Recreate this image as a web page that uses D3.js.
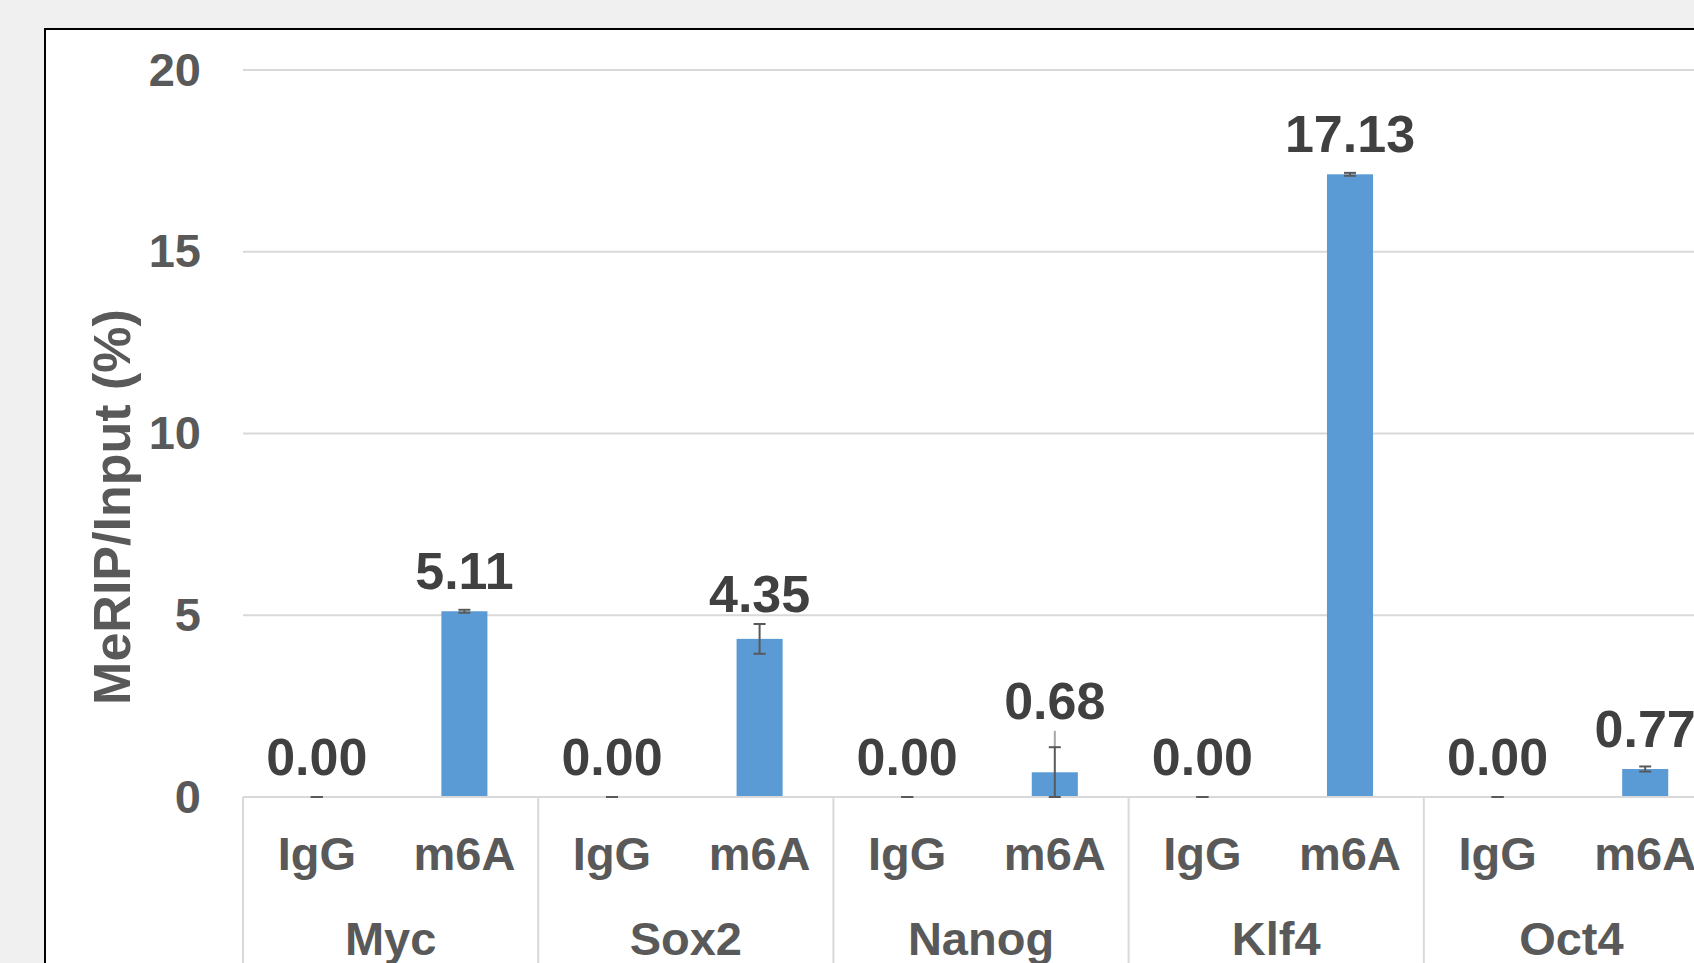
<!DOCTYPE html>
<html>
<head>
<meta charset="utf-8">
<script src="https://cdn.jsdelivr.net/npm/d3@7"></script>
<style>
	html, body { margin: 0; padding: 0; background: #f0f0f0; overflow: hidden; }
	#chart { width: 1694px; height: 963px; }
	text { font-family: "Liberation Sans", Arial, sans-serif; font-weight: bold; }
</style>
</head>
<body>
<div id="chart"></div>
<script>
// Data
var genes = ["Myc", "Sox2", "Nanog", "Klf4", "Oct4"];
var antibodies = ["IgG", "m6A"];
var values = [0.00, 5.11, 0.00, 4.35, 0.00, 0.68, 0.00, 17.13, 0.00, 0.77];
var errPlus = [0.00, 0.04, 0.00, 0.41, 0.00, 0.69, 0.00, 0.04, 0.00, 0.07];
var errMinus = [0.00, 0.04, 0.00, 0.41, 0.00, 0.68, 0.00, 0.04, 0.00, 0.07];
var errLineUp = [0.00, 0.04, 0.00, 0.41, 0.00, 1.14, 0.00, 0.04, 0.00, 0.07];
var yTicks = [0, 5, 10, 15, 20];
var yTitle = "MeRIP/Input (%)";

var rows = [];
genes.forEach((g, gi) => {
	antibodies.forEach((a, ai) => {
		var i = gi * antibodies.length + ai;
		rows.push({gene: g, ab: a, value: values[i], up: errPlus[i], down: errMinus[i], lineUp: errLineUp[i]});
	});
});

var W = 1694, H = 963;
var svg = d3.select("#chart")
	.append("svg")
	.attr("width", W)
	.attr("height", H);

// chart frame (runs off the right and bottom edges)
svg.append("rect")
	.attr("x", 45).attr("y", 29)
	.attr("width", 2000).attr("height", 2000)
	.attr("fill", "#fff")
	.attr("stroke", "#000")
	.attr("stroke-width", 2);

var plotLeft = 243, plotRight = 1719;
var yScale = d3.scaleLinear().domain([0, 20]).range([797, 70]);
var xGroup = d3.scaleBand().domain(genes).range([plotLeft, plotRight]);
var xSub = d3.scaleBand().domain(antibodies).range([0, xGroup.bandwidth()]);
var barW = xSub.bandwidth() * 0.312;
var cx = d => xGroup(d.gene) + xSub(d.ab) + xSub.bandwidth() / 2;

// gridlines
svg.append("g")
	.selectAll("line")
	.data(yTicks)
	.join("line")
		.attr("x1", plotLeft).attr("x2", W)
		.attr("y1", d => yScale(d)).attr("y2", d => yScale(d))
		.attr("stroke", "#d9d9d9")
		.attr("stroke-width", 2);

// y axis labels
var yAxis = d3.axisLeft(yScale).tickValues(yTicks).tickSize(0).tickPadding(42);
var yG = svg.append("g")
	.attr("transform", "translate(" + plotLeft + ",0)")
	.call(yAxis);
yG.select(".domain").remove();
yG.selectAll("text")
	.style("font-size", "47px")
	.style("font-family", "'Liberation Sans', Arial, sans-serif")
	.style("font-weight", "bold")
	.attr("fill", "#595959");

// y title
svg.append("text")
	.attr("transform", "translate(130,507) rotate(-90)")
	.attr("text-anchor", "middle")
	.style("font-size", "52px")
	.attr("fill", "#595959")
	.text(yTitle);

// bars
svg.append("g")
	.selectAll("rect")
	.data(rows)
	.join("rect")
		.attr("x", d => cx(d) - barW / 2)
		.attr("y", d => yScale(d.value))
		.attr("width", barW)
		.attr("height", d => yScale(0) - yScale(d.value))
		.attr("fill", "#5b9bd5");

// category axis: baseline, dividers, labels
svg.append("line")
	.attr("x1", plotLeft).attr("x2", W)
	.attr("y1", yScale(0)).attr("y2", yScale(0))
	.attr("stroke", "#d9d9d9")
	.attr("stroke-width", 2);

var edges = genes.map(g => xGroup(g)).concat([plotRight]);
svg.append("g")
	.selectAll("line")
	.data(edges)
	.join("line")
		.attr("x1", d => d).attr("x2", d => d)
		.attr("y1", yScale(0)).attr("y2", H)
		.attr("stroke", "#d9d9d9")
		.attr("stroke-width", 2);

svg.append("g")
	.selectAll("text")
	.data(rows)
	.join("text")
		.attr("x", d => cx(d))
		.attr("y", 870)
		.attr("text-anchor", "middle")
		.style("font-size", "47px")
		.attr("fill", "#595959")
		.text(d => d.ab);

svg.append("g")
	.selectAll("text")
	.data(genes)
	.join("text")
		.attr("x", d => xGroup(d) + xGroup.bandwidth() / 2)
		.attr("y", 955)
		.attr("text-anchor", "middle")
		.style("font-size", "47px")
		.attr("fill", "#595959")
		.text(d => d);

// error bars
var capW = 12;
var err = svg.append("g");
rows.forEach(d => {
	var x = cx(d);
	var yTop = yScale(d.value + d.up);
	var yBot = yScale(Math.max(0, d.value - d.down));
	// overshoot of the whisker past the cap
	if (d.lineUp > d.up) {
		err.append("line")
			.attr("x1", x).attr("x2", x)
			.attr("y1", yScale(d.value + d.lineUp)).attr("y2", yTop)
			.attr("stroke", "#a6a6a6").attr("stroke-width", 2);
	}
	err.append("line")
		.attr("x1", x).attr("x2", x)
		.attr("y1", yTop).attr("y2", yBot)
		.attr("stroke", "#595959").attr("stroke-width", 2);
	[yTop, yBot].forEach(yy => {
		err.append("line")
			.attr("x1", x - capW / 2).attr("x2", x + capW / 2)
			.attr("y1", yy).attr("y2", yy)
			.attr("stroke", "#595959").attr("stroke-width", 2);
	});
});

// data labels
svg.append("g")
	.selectAll("text")
	.data(rows)
	.join("text")
		.attr("x", d => cx(d))
		.attr("y", d => Math.min(yScale(d.value) - 22, yScale(d.value + d.lineUp) - 12))
		.attr("text-anchor", "middle")
		.style("font-size", "52px")
		.attr("fill", "#404040")
		.text(d => d.value.toFixed(2));
</script>
</body>
</html>
